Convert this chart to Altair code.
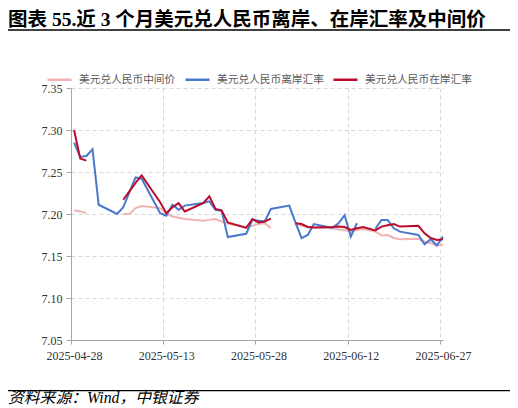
import altair as alt
import pandas as pd

dates = ["2025-04-28", "2025-04-29", "2025-04-30", "2025-05-01", "2025-05-02", "2025-05-05",
         "2025-05-06", "2025-05-07", "2025-05-08", "2025-05-09", "2025-05-12", "2025-05-13",
         "2025-05-14", "2025-05-15", "2025-05-16", "2025-05-19", "2025-05-20", "2025-05-21",
         "2025-05-22", "2025-05-23", "2025-05-26", "2025-05-27", "2025-05-28", "2025-05-29",
         "2025-05-30", "2025-06-02", "2025-06-03", "2025-06-04", "2025-06-05", "2025-06-06",
         "2025-06-09", "2025-06-10", "2025-06-11", "2025-06-12", "2025-06-13", "2025-06-14",
         "2025-06-16", "2025-06-17", "2025-06-18", "2025-06-19", "2025-06-20", "2025-06-23",
         "2025-06-24", "2025-06-25", "2025-06-26", "2025-06-27"]

central = [7.2045, 7.203, 7.201, None, None, None,
           7.200, 7.200, 7.207, 7.2095, 7.207, 7.200,
           7.197, 7.1955, 7.194, 7.192, 7.193, 7.194,
           7.191, 7.1885, 7.1845, 7.186, 7.188, 7.189,
           7.1835, None, 7.188, 7.186, 7.1845, 7.184,
           7.183, 7.1815, 7.181, 7.1785, 7.181, 7.182,
           7.179, 7.1745, 7.175, 7.1715, 7.170, 7.1705,
           7.167, 7.1655, 7.1625, 7.1635]

offshore = [7.285, 7.268, 7.269, 7.277, 7.211, 7.200,
            7.208, 7.226, 7.2435, 7.242, 7.201, 7.198,
            7.211, 7.205, 7.210, 7.213, 7.215, 7.205,
            7.204, 7.1725, 7.1765, 7.193, 7.192, 7.191,
            7.206, 7.210, 7.190, 7.1714, 7.175, 7.188,
            7.1835, 7.189, 7.1985, 7.173, 7.189, None,
            7.1825, 7.193, 7.193, 7.183, 7.179, 7.175,
            7.164, 7.170, 7.1626, 7.173]

onshore = [7.300, 7.266, 7.2635, None, None, None,
           7.217, 7.227, 7.237, 7.246, 7.214, 7.201,
           7.208, 7.213, 7.203, 7.213, 7.221, 7.206,
           7.204, 7.190, 7.1835, 7.194, 7.190, 7.191,
           7.1945, None, 7.189, 7.188, 7.1845, 7.184,
           7.1845, 7.185, 7.1845, 7.181, 7.183, 7.1845,
           7.1805, 7.185, 7.1865, 7.188, 7.185, 7.186,
           7.177, 7.1714, 7.169, 7.170]

names = ["美元兑人民币中间价", "美元兑人民币离岸汇率", "美元兑人民币在岸汇率"]
colors = ["#F2B3B3", "#4A78CC", "#BA0C2C"]
y_ticks = [7.05, 7.10, 7.15, 7.20, 7.25, 7.30, 7.35]
x_ticks = [(4, 28), (5, 13), (5, 28), (6, 12), (6, 27)]

title_text = "图表 55.近 3 个月美元兑人民币离岸、在岸汇率及中间价"
source_text = "资料来源：Wind，中银证券"

SERIF = "Liberation Serif, Noto Sans CJK SC"
CJK = "Noto Sans CJK SC"


def rows(name, vals):
    out = []
    seg = 0
    for d, v in zip(dates, vals):
        if v is None:
            seg += 1
            continue
        out.append({"date": d + "T12:00:00", "series": name, "value": v, "seg": seg})
    return pd.DataFrame(out)


x_enc = alt.X(
    "date:T",
    scale=alt.Scale(domain=[alt.DateTime(year=2025, month=4, date=28, hours=0),
                            alt.DateTime(year=2025, month=6, date=27, hours=12)]),
    axis=alt.Axis(values=[alt.DateTime(year=2025, month=m, date=d) for m, d in x_ticks],
                  format="%Y-%m-%d", title=None, tickSize=4, labelPadding=6,
                  labelOffset=3, labelFlush=False, grid=True),
)
y_enc = alt.Y(
    "value:Q",
    scale=alt.Scale(domain=[7.05, 7.35], nice=False, zero=False),
    axis=alt.Axis(values=y_ticks, format=".2f", title=None, tickSize=5,
                  labelPadding=4, labelFlush=False, grid=True),
)
color_enc = alt.Color(
    "series:N",
    scale=alt.Scale(domain=names, range=colors),
    legend=alt.Legend(orient="none", legendX=-25, legendY=-22, direction="horizontal",
                      title=None, symbolType="stroke", symbolSize=576,
                      symbolStrokeWidth=2.5, labelOffset=6, columnPadding=4,
                      labelFont=CJK, labelFontSize=10.7, labelColor="#595959",
                      labelLimit=300),
)

layers = []
for name, vals in zip(names, [central, offshore, onshore]):
    layers.append(
        alt.Chart(rows(name, vals)).mark_line(strokeWidth=2).encode(
            x=x_enc, y=y_enc, color=color_enc, detail="seg:N"
        )
    )

one = pd.DataFrame({"t": [title_text]})
title = alt.Chart(one).mark_text(
    align="left", baseline="alphabetic", font=SERIF, fontSize=19.5,
    fontWeight="bold", color="black"
).encode(text="t:N", x=alt.value(-63), y=alt.value(-62.5))

rule_top = alt.Chart(one).mark_rule(color="black", strokeWidth=1.3).encode(
    x=alt.value(-66), x2=alt.value(442), y=alt.value(-58))

src = pd.DataFrame({"t": [source_text]})
source = alt.Chart(src).mark_text(
    align="left", baseline="alphabetic", font=SERIF, fontSize=15.8,
    fontStyle="italic", color="black"
).encode(text="t:N", x=alt.value(-63), y=alt.value(315))

rule_bot = alt.Chart(src).mark_rule(color="black", strokeWidth=1.3).encode(
    x=alt.value(-66), x2=alt.value(442), y=alt.value(302.7))

chart = alt.layer(*layers, title, rule_top, source, rule_bot).properties(
    width=372, height=252,
    padding={"left": 63, "top": 80, "right": 67, "bottom": 68},
    autosize=alt.AutoSizeParams(type="none"),
).configure_view(stroke=None).configure_axis(
    labelFont="Liberation Serif", labelFontSize=12, labelColor="#333333",
    domainColor="#A6A6A6", tickColor="#A6A6A6",
    gridColor="#D9D9D9", gridDash=[4, 3],
)

chart.save("out.html", embed_options={"renderer": "svg", "actions": False})
